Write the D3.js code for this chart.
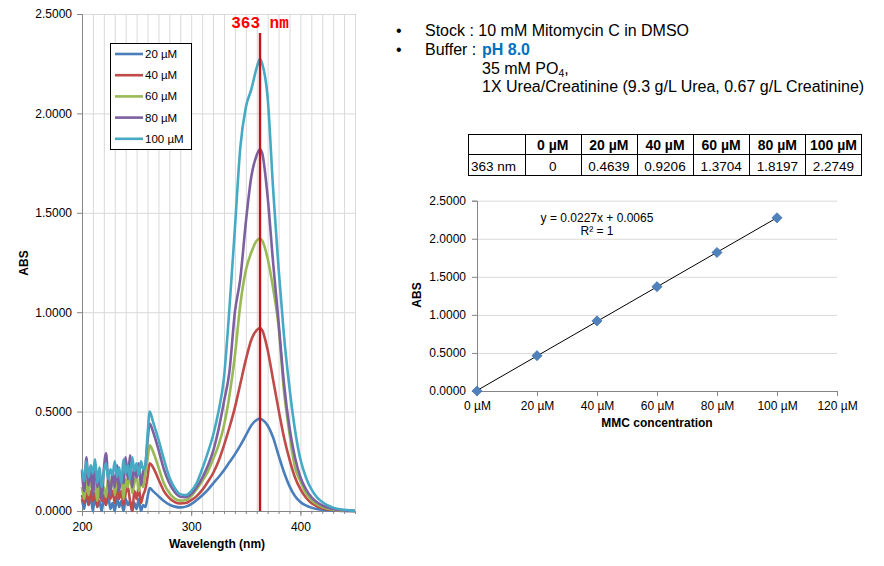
<!DOCTYPE html>
<html><head><meta charset="utf-8">
<script src="https://cdn.jsdelivr.net/npm/d3@7"></script>
<style>
body{margin:0;background:#fff;}
svg{display:block;font-family:"Liberation Sans",Arial,sans-serif;}
</style></head>
<body><svg id="c" width="884" height="566"></svg>
<script>
// ---------- Data ----------
const wavelengths = [200,202,204,206,208,210,212,214,216,218,220,222,224,226,228,230,232,234,236,238,240,242,244,246,248,250,252,254,256,258,
 260,262,265,270,275,280,285,290,295,300,305,310,315,320,325,330,335,340,345,350,355,360,363,365,370,375,380,385,390,395,400,405,410,415,420,425,430,435,440,445,450];
const seriesNames = ["20 µM","40 µM","60 µM","80 µM","100 µM"];
const seriesColors = ["#4A7EBB","#BE4B48","#98B954","#7D60A0","#46AAC5"];
const abs20 = [0.06,0.01,0.09,0.03,0.07,0.00,0.08,0.02,0.05,0.00,0.06,0.03,0.08,0.01,0.04,0.00,0.07,0.02,0.05,0.00,0.06,0.03,0.05,0.00,0.04,0.01,0.06,0.00,0.03,0.02,
 0.07,0.115,0.10,0.075,0.05,0.032,0.022,0.018,0.022,0.035,0.055,0.078,0.105,0.138,0.17,0.205,0.245,0.285,0.33,0.38,0.43,0.458,0.4639,
 0.46,0.43,0.37,0.28,0.195,0.125,0.075,0.045,0.028,0.017,0.01,0.006,0.004,0.002,0.001,0,0,0];
const abs40 = [0.08,0.04,0.11,0.03,0.10,0.05,0.09,0.02,0.12,0.05,0.08,0.03,0.11,0.06,0.10,0.04,0.13,0.06,0.10,0.03,0.09,0.12,0.05,0.00,0.10,0.06,0.12,0.04,0.08,0.11,
 0.17,0.24,0.22,0.16,0.10,0.065,0.045,0.038,0.04,0.055,0.075,0.105,0.145,0.19,0.25,0.33,0.42,0.52,0.64,0.76,0.86,0.91,0.9206,
 0.91,0.81,0.66,0.51,0.37,0.26,0.17,0.11,0.068,0.04,0.024,0.014,0.008,0.005,0.003,0.001,0,0];
const abs60 = [0.12,0.06,0.15,0.08,0.17,0.10,0.14,0.05,0.16,0.09,0.12,0.07,0.17,0.10,0.19,0.08,0.15,0.11,0.18,0.06,0.16,0.12,0.20,0.09,0.14,0.18,0.10,0.15,0.12,0.19,
 0.26,0.33,0.30,0.22,0.14,0.09,0.062,0.052,0.055,0.075,0.11,0.15,0.195,0.26,0.33,0.43,0.58,0.78,1.04,1.21,1.30,1.36,1.3704,
 1.36,1.27,1.12,0.93,0.60,0.39,0.22,0.15,0.09,0.055,0.034,0.02,0.012,0.007,0.004,0.002,0.001,0];
const abs80 = [0.20,0.10,0.27,0.13,0.22,0.08,0.24,0.12,0.18,0.06,0.21,0.29,0.15,0.08,0.20,0.12,0.23,0.10,0.19,0.14,0.27,0.16,0.28,0.12,0.22,0.17,0.24,0.13,0.20,0.23,
 0.35,0.44,0.40,0.31,0.21,0.14,0.095,0.072,0.07,0.085,0.12,0.165,0.225,0.30,0.41,0.55,0.70,1.00,1.17,1.45,1.68,1.79,1.8197,
 1.80,1.58,1.25,0.95,0.64,0.42,0.27,0.17,0.11,0.07,0.045,0.028,0.017,0.01,0.006,0.003,0.001,0];
const abs100 = [0.21,0.15,0.25,0.17,0.23,0.19,0.26,0.14,0.22,0.12,0.20,0.24,0.16,0.21,0.18,0.25,0.17,0.22,0.14,0.26,0.19,0.23,0.16,0.27,0.20,0.24,0.18,0.25,0.21,0.23,
 0.38,0.50,0.45,0.36,0.26,0.17,0.115,0.085,0.08,0.10,0.14,0.21,0.29,0.38,0.50,0.67,1.02,1.42,1.83,2.03,2.12,2.23,2.2749,
 2.25,2.08,1.62,1.22,0.88,0.62,0.41,0.26,0.17,0.11,0.07,0.045,0.028,0.017,0.01,0.006,0.003,0.001];
const peakWavelength = 363;

const concentrations = [0,20,40,60,80,100];
const abs363 = [0,0.4639,0.9206,1.3704,1.8197,2.2749];
const tableHeader = ["","0 µM","20 µM","40 µM","60 µM","80 µM","100 µM"];
const tableRowLabel = "363 nm";
const tableValues = ["0","0.4639","0.9206","1.3704","1.8197","2.2749"];
const fitSlope = 0.0227, fitIntercept = 0.0065;
const yTicks = [0,0.5,1.0,1.5,2.0,2.5];
const xTicksL = [200,300,400];
const xTicksR = [0,20,40,60,80,100,120];

const svg = d3.select("#c");
const fmt4 = d3.format(".4f");
const gridCol = "#D9D9D9", axisCol = "#868686", txtCol = "#000";

// ---------- Left chart ----------
const xL = d3.scaleLinear().domain([200,450]).range([82,355]);
const yL = d3.scaleLinear().domain([0,2.5]).range([511,14]);
const gL = svg.append("g");
gL.append("g").attr("transform","translate(0,511)")
  .call(d3.axisBottom(xL).ticks(25).tickSize(-497).tickFormat(""))
  .call(g=>g.select(".domain").remove())
  .call(g=>g.selectAll("line").attr("stroke",gridCol));
gL.append("g").attr("transform","translate(82,0)")
  .call(d3.axisLeft(yL).tickValues(yTicks).tickSize(-273).tickFormat(""))
  .call(g=>g.select(".domain").remove())
  .call(g=>g.selectAll("line").attr("stroke",gridCol));
gL.append("g").attr("transform","translate(82,0)")
  .call(d3.axisLeft(yL).tickValues(yTicks).tickSize(5).tickPadding(5).tickFormat(fmt4))
  .call(g=>g.select(".domain").attr("stroke",axisCol))
  .call(g=>g.selectAll("line").attr("stroke",axisCol))
  .call(g=>g.selectAll("text").attr("font-size",12).attr("fill",txtCol).attr("font-family","Liberation Sans, Arial"));
gL.append("g").attr("transform","translate(0,511)")
  .call(d3.axisBottom(xL).ticks(25).tickSize(3).tickFormat(""))
  .call(g=>g.select(".domain").attr("stroke",axisCol))
  .call(g=>g.selectAll("line").attr("stroke",axisCol));
gL.append("g").attr("transform","translate(0,511)")
  .call(d3.axisBottom(xL).tickValues(xTicksL).tickSize(5).tickPadding(6))
  .call(g=>g.select(".domain").remove())
  .call(g=>g.selectAll("line").attr("stroke",axisCol))
  .call(g=>g.selectAll("text").attr("font-size",12).attr("fill",txtCol).attr("font-family","Liberation Sans, Arial"));

const seriesData = [abs20,abs40,abs60,abs80,abs100];
const line = d3.line().x((d,i)=>xL(wavelengths[i])).y(d=>yL(d)).curve(d3.curveMonotoneX);
gL.append("g").selectAll("path").data(seriesData).join("path")
  .attr("d",line).attr("fill","none").attr("stroke",(d,i)=>seriesColors[i])
  .attr("stroke-width",2.6).attr("stroke-linejoin","round");

gL.append("line").attr("x1",xL(peakWavelength)).attr("x2",xL(peakWavelength))
  .attr("y1",33).attr("y2",yL(0)).attr("stroke","#C0141C").attr("stroke-width",2.4);
gL.append("text").attr("x",xL(peakWavelength)).attr("y",28).attr("text-anchor","middle")
  .attr("font-family","Liberation Mono, Courier New, monospace").attr("font-weight","bold")
  .attr("font-size",16).attr("fill","#FF0000").text(peakWavelength+" nm");

gL.append("text").attr("x",217).attr("y",548).attr("text-anchor","middle")
  .attr("font-weight","bold").attr("font-size",12).text("Wavelength (nm)");
gL.append("text").attr("transform","translate(28,263) rotate(-90)").attr("text-anchor","middle")
  .attr("font-weight","bold").attr("font-size",12).text("ABS");

const leg = gL.append("g");
leg.append("rect").attr("x",110.5).attr("y",43.5).attr("width",81).attr("height",106)
  .attr("fill","#fff").attr("stroke","#000").attr("stroke-width",1);
const legRows = leg.selectAll("g").data(seriesNames).join("g")
  .attr("transform",(d,i)=>`translate(0,${54+i*21.2})`);
legRows.append("line").attr("x1",115).attr("x2",143).attr("stroke",(d,i)=>seriesColors[i]).attr("stroke-width",2.6);
legRows.append("text").attr("x",145).attr("y",4).attr("font-size",11.5).text(d=>d);

// ---------- Notes text ----------
const notes = svg.append("g").attr("font-size",16).attr("fill","#000");
notes.append("text").attr("x",396).attr("y",36).text("•");
notes.append("text").attr("x",425).attr("y",36).text("Stock : 10 mM Mitomycin C in DMSO");
notes.append("text").attr("x",396).attr("y",55).text("•");
const b = notes.append("text").attr("x",425).attr("y",55);
b.append("tspan").text("Buffer : ");
b.append("tspan").attr("x",482).attr("font-weight","bold").attr("fill","#0070C0").text("pH 8.0");
const po = notes.append("text").attr("x",482).attr("y",73.5);
po.append("tspan").text("35 mM PO");
po.append("tspan").attr("font-size",10.5).attr("dy",3).text("4");
po.append("tspan").attr("dy",-3).text(",");
notes.append("text").attr("x",482).attr("y",92).text("1X Urea/Creatinine (9.3 g/L Urea, 0.67 g/L Creatinine)");

// ---------- Table ----------
const colX = d3.scaleBand().domain(d3.range(tableHeader.length)).range([468.5,861.5]);
const rowY = [134.5,154.5,175.5];
const tbl = svg.append("g");
tbl.append("rect").attr("x",468.5).attr("y",rowY[0]).attr("width",393).attr("height",rowY[2]-rowY[0])
  .attr("fill","none").attr("stroke","#000");
tbl.append("line").attr("x1",468.5).attr("x2",861.5).attr("y1",rowY[1]).attr("y2",rowY[1]).attr("stroke","#000");
tbl.selectAll("line.v").data(d3.range(1,tableHeader.length)).join("line").attr("class","v")
  .attr("x1",d=>Math.round(colX(d))+0.5).attr("x2",d=>Math.round(colX(d))+0.5)
  .attr("y1",rowY[0]).attr("y2",rowY[2]).attr("stroke","#000");
tbl.selectAll("text.h").data(tableHeader).join("text").attr("class","h")
  .attr("x",(d,i)=>colX(i)+colX.bandwidth()/2).attr("y",149.5).attr("text-anchor","middle")
  .attr("font-weight","bold").attr("font-size",14).text(d=>d);
tbl.append("text").attr("x",471).attr("y",170.5).attr("font-size",13.5).text(tableRowLabel);
tbl.selectAll("text.v").data(tableValues).join("text").attr("class","v")
  .attr("x",(d,i)=>colX(i+1)+colX.bandwidth()/2).attr("y",170.5).attr("text-anchor","middle")
  .attr("font-size",13.5).text(d=>d);

// ---------- Right chart ----------
const xR = d3.scaleLinear().domain([0,120]).range([477,837]);
const yR = d3.scaleLinear().domain([0,2.5]).range([391,200.7]);
const gR = svg.append("g");
gR.append("g").attr("transform","translate(477,0)")
  .call(d3.axisLeft(yR).tickValues(yTicks).tickSize(-360).tickFormat(""))
  .call(g=>g.select(".domain").remove())
  .call(g=>g.selectAll("line").attr("stroke",gridCol));
gR.append("g").attr("transform","translate(477,0)")
  .call(d3.axisLeft(yR).tickValues(yTicks).tickSize(5).tickPadding(6).tickFormat(fmt4))
  .call(g=>g.select(".domain").attr("stroke",axisCol))
  .call(g=>g.selectAll("line").attr("stroke",axisCol))
  .call(g=>g.selectAll("text").attr("font-size",12).attr("fill",txtCol).attr("font-family","Liberation Sans, Arial"));
gR.append("g").attr("transform","translate(0,391)")
  .call(d3.axisBottom(xR).tickValues(xTicksR).tickSize(5).tickPadding(5).tickFormat(d=>d+" µM"))
  .call(g=>g.select(".domain").attr("stroke",axisCol))
  .call(g=>g.selectAll("line").attr("stroke",axisCol))
  .call(g=>g.selectAll("text").attr("font-size",12).attr("fill",txtCol).attr("font-family","Liberation Sans, Arial"));
gR.append("line").attr("x1",xR(0)).attr("y1",yR(fitIntercept))
  .attr("x2",xR(100)).attr("y2",yR(fitSlope*100+fitIntercept)).attr("stroke","#000").attr("stroke-width",1);
gR.selectAll("path.m").data(concentrations).join("path").attr("class","m")
  .attr("d",d3.symbol(d3.symbolSquare,52)())
  .attr("transform",(d,i)=>`translate(${xR(d)},${yR(abs363[i])}) rotate(45)`)
  .attr("fill","#4F81BD").attr("stroke","#3C6A9E").attr("stroke-width",0.6);
gR.append("text").attr("x",597).attr("y",221.5).attr("text-anchor","middle").attr("font-size",12)
  .text(`y = ${fitSlope}x + ${fitIntercept}`);
gR.append("text").attr("x",597).attr("y",235).attr("text-anchor","middle").attr("font-size",12)
  .text("R² = 1");
gR.append("text").attr("x",657).attr("y",427).attr("text-anchor","middle")
  .attr("font-weight","bold").attr("font-size",12).text("MMC concentration");
gR.append("text").attr("transform","translate(421,295) rotate(-90)").attr("text-anchor","middle")
  .attr("font-weight","bold").attr("font-size",12).text("ABS");
</script></body></html>
